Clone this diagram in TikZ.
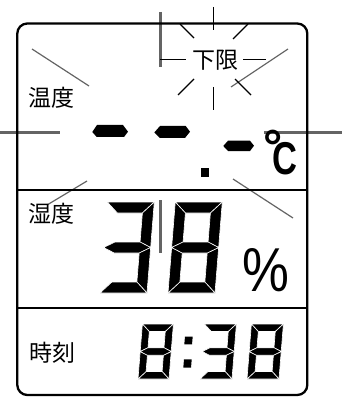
\documentclass[tikz,border=0pt]{standalone}
\usepackage{fontspec}
\newfontfamily\cjk{Noto Sans CJK JP}
\newfontfamily\lsans{Liberation Sans}
\newfontfamily\lsansbold{Liberation Sans Bold}
\definecolor{raygray}{RGB}{100,100,100}
\tikzset{
  ray/.style={raygray, line width=1.2pt},
  thickray/.style={raygray, line width=2.6pt},
  flash/.style={black, line width=1.2pt},
  framebox/.style={black, line width=2.3pt},
  divider/.style={black, line width=2pt},
  seg/.style={fill=black, draw=white, line width=0.6pt, line join=miter},
  cjklabel/.style={inner sep=0pt, font=\cjk\fontsize{23}{23}\selectfont},
}
\newcommand\lcdsega{\path[seg] (0,\dh) -- (\dw,\dh) -- (\dw-\dt,\dh-\dt) -- (\dt,\dh-\dt) -- cycle;}
\newcommand\lcdsegb{\path[seg] (\dw,\dh) -- (\dw,\dm) -- (\dw-\dt,\dm+\dt/2) -- (\dw-\dt,\dh-\dt) -- cycle;}
\newcommand\lcdsegc{\path[seg] (\dw,\dm) -- (\dw,0) -- (\dw-\dt,\dt) -- (\dw-\dt,\dm-\dt/2) -- cycle;}
\newcommand\lcdsegd{\path[seg] (0,0) -- (\dw,0) -- (\dw-\dt,\dt) -- (\dt,\dt) -- cycle;}
\newcommand\lcdsege{\path[seg] (0,\dm) -- (0,0) -- (\dt,\dt) -- (\dt,\dm-\dt/2) -- cycle;}
\newcommand\lcdsegf{\path[seg] (0,\dh) -- (0,\dm) -- (\dt,\dm+\dt/2) -- (\dt,\dh-\dt) -- cycle;}
\newcommand\lcdsegg{\path[seg] (0,\dm) -- (\dt,\dm+\dt/2) -- (\dw-\dt,\dm+\dt/2) -- (\dw,\dm) -- (\dw-\dt,\dm-\dt/2) -- (\dt,\dm-\dt/2) -- cycle;}
% #1 x, #2 y of bottom-left, #3 width, #4 height, #5 thickness, #6 segments
\newcommand\lcddigit[6]{%
  \begin{scope}[shift={(#1,#2)}, yscale=-1, xslant=-0.08]
    \pgfmathsetmacro\dw{#3}\pgfmathsetmacro\dh{#4}\pgfmathsetmacro\dt{#5}\pgfmathsetmacro\dm{#4/2}
    \foreach \s in {#6}{\csname lcdseg\s\endcsname}
  \end{scope}}
\begin{document}
\begin{tikzpicture}[x=1pt, y=-1pt]
  \useasboundingbox (0,0) rectangle (342,398);
  % gray rays
  \draw[ray] (32,49) -- (89,86);
  \draw[ray] (87,181) -- (47,205);
  \draw[ray] (233,179) -- (293,218);
  \draw[ray] (288,49) -- (231,87);
  \draw[thickray] (0,132.3) -- (60,132.3);
  \draw[thickray] (264,132.3) -- (342,132.3);
  \draw[thickray] (160.5,12) -- (160.5,67);
  \draw[thickray] (160.5,200) -- (160.5,253);
  % flash around the label
  \draw[flash] (160,59.5) -- (186,59.5);
  \draw[flash] (243,59.5) -- (266,59.5);
  \draw[flash] (213.7,7) -- (213.7,30);
  \draw[flash] (213.7,87) -- (213.7,110);
  \draw[flash] (180,24) -- (194,38);
  \draw[flash] (248,24) -- (233,39);
  \draw[flash] (194,79) -- (178,95);
  \draw[flash] (235,79) -- (251,95);
  % frame
  \draw[framebox, rounded corners=10pt] (17.3,23.5) rectangle (307.3,395);
  \draw[divider] (17.3,190) -- (307.3,190);
  \draw[divider] (17.3,308) -- (307.3,308);
  % labels
  \node[cjklabel] (lower) at (215.5,60) {下限};
  \node[cjklabel] (temp) at (51.5,98) {温度};
  \node[cjklabel] (hum) at (51.5,214) {湿度};
  \node[cjklabel] (time) at (52,352.5) {時刻};
  % temperature dashes
  \fill (92.3,132) -- (97,125) -- (123,125) -- (128,131.7) -- (124,137) -- (96.7,137) -- cycle;
  \fill (154.3,132.5) -- (160,126) -- (185.7,126) -- (190,131.7) -- (185,138) -- (160,138) -- cycle;
  \fill (223.3,146) -- (228,140.7) -- (250,140.7) -- (254,145.7) -- (250,151) -- (228,151) -- cycle;
  \fill (200.7,167.7) rectangle (209.3,176.7);
  \node[inner sep=0pt, anchor=base west] (unit) at (263,174)
    {\raisebox{10.5pt}{\lsansbold\fontsize{48}{48}\selectfont °}\kern-9.5pt\scalebox{0.75}[1]{\lsansbold\fontsize{46}{46}\selectfont C}};
  % humidity digits
  \lcddigit{100}{293}{47}{91}{11}{a,b,g,c,d}
  \lcddigit{168}{293}{47}{91}{11}{a,b,c,d,e,f,g}
  \node[inner sep=0pt, xscale=0.85, font=\lsans\fontsize{62}{62}\selectfont] (pct) at (265.5,270) {\%};
  % time digits
  \lcddigit{138}{379}{31}{55}{7.5}{a,b,c,d,e,f,g}
  \fill (185,336.7) -- (192.7,336.7) -- (192,344.3) -- (184.3,344.3) -- cycle;
  \fill (184,359.3) -- (191.7,359.3) -- (191,367.7) -- (183.3,367.7) -- cycle;
  \lcddigit{200}{379}{32}{55}{7.5}{a,b,g,c,d}
  \lcddigit{247}{379}{32}{55}{7.5}{a,b,c,d,e,f,g}
\end{tikzpicture}
\end{document}
